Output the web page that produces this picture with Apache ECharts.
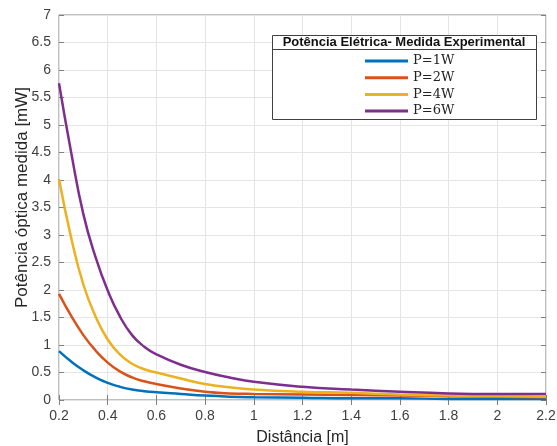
<!DOCTYPE html>
<html>
<head>
<meta charset="utf-8">
<script src="https://cdn.jsdelivr.net/npm/echarts@6/dist/echarts.min.js"></script>
<style>
  html, body { margin: 0; padding: 0; background: #fff; }
  #chart { width: 557px; height: 446px; }
</style>
</head>
<body>
<div id="chart"></div>
<script>
// distance [m]
const distancia = [0.2, 0.25, 0.3, 0.35, 0.4, 0.45, 0.5, 0.55, 0.6, 0.7, 0.8, 0.9, 1.0, 1.2, 1.4, 1.6, 1.8, 2.0, 2.2]
// measured optical power [mW]
const p1W = [0.89, 0.70, 0.54, 0.41, 0.31, 0.24, 0.19, 0.16, 0.14, 0.11, 0.08, 0.06, 0.05, 0.04, 0.03, 0.03, 0.02, 0.02, 0.02]
const p2W = [1.93, 1.53, 1.18, 0.90, 0.68, 0.52, 0.41, 0.34, 0.29, 0.21, 0.15, 0.12, 0.11, 0.10, 0.09, 0.08, 0.07, 0.06, 0.05]
const p4W = [4.02, 2.95, 2.10, 1.52, 1.10, 0.83, 0.66, 0.56, 0.50, 0.39, 0.29, 0.23, 0.19, 0.15, 0.13, 0.10, 0.08, 0.07, 0.06]
const p6W = [5.76, 4.50, 3.38, 2.60, 1.99, 1.52, 1.18, 0.97, 0.83, 0.64, 0.51, 0.41, 0.33, 0.24, 0.19, 0.15, 0.12, 0.11, 0.11]
const nomes = ['P=1W', 'P=2W', 'P=4W', 'P=6W']
const cores = ['#0072BD', '#D95319', '#EDB120', '#7E2F8E']
const legendTitle = 'Potência Elétrica- Medida Experimental'

let chart = echarts.init(document.getElementById('chart'))

function pares(ys) {
    return distancia.map((x, i) => [x, ys[i]])
}

const fonte = 'Liberation Sans, Arial, sans-serif'
const tickCor = '#404040'
const gridLinha = { show: true, lineStyle: { color: '#e5e5e5', width: 1 } }
const tickDentro = { show: true, inside: true, length: 5, lineStyle: { color: '#808080' } }

const series = [p1W, p2W, p4W, p6W].map((ys, i) => ({
    name: nomes[i],
    type: 'line',
    data: pares(ys),
    smooth: 0.5,
    showSymbol: false,
    lineStyle: { color: cores[i], width: 2.5 },
    itemStyle: { color: cores[i] },
    xAxisIndex: 0,
    yAxisIndex: 0
}))

let option = {
    animation: false,
    grid: { left: 59, right: 11, top: 15, bottom: 46, show: true, borderColor: '#808080', borderWidth: 1,
            outerBoundsMode: 'none' },
    xAxis: [{
        type: 'value', min: 0.2, max: 2.2, interval: 0.2,
        name: 'Distância [m]', nameLocation: 'middle', nameGap: 30,
        nameTextStyle: { fontFamily: fonte, fontSize: 16, color: '#262626' },
        axisLine: { show: false },
        axisTick: tickDentro,
        splitLine: gridLinha,
        axisLabel: { fontFamily: fonte, fontSize: 14, color: tickCor, margin: 9,
            formatter: v => String(+v.toFixed(1)) }
    }, {
        type: 'value', min: 0.2, max: 2.2, interval: 0.2, position: 'top',
        axisLine: { show: false }, axisTick: tickDentro, axisLabel: { show: false }, splitLine: { show: false }
    }],
    yAxis: [{
        type: 'value', min: 0, max: 7, interval: 0.5,
        name: 'Potência óptica medida [mW]', nameLocation: 'middle', nameGap: 28,
        nameMoveOverlap: false,
        nameTextStyle: { fontFamily: fonte, fontSize: 17, color: '#262626', padding: [0, 0, 0, 20] },
        axisLine: { show: false },
        axisTick: tickDentro,
        splitLine: gridLinha,
        axisLabel: { fontFamily: fonte, fontSize: 14, color: tickCor, margin: 8,
            formatter: v => String(+v.toFixed(1)) }
    }, {
        type: 'value', min: 0, max: 7, interval: 0.5, position: 'right',
        axisLine: { show: false }, axisTick: tickDentro, axisLabel: { show: false }, splitLine: { show: false }
    }],
    legend: {
        data: nomes,
        orient: 'vertical',
        left: 360, top: 49,
        itemWidth: 43, itemHeight: 3, itemGap: 2.7,
        icon: 'rect',
        z: 120,
        textStyle: { fontFamily: 'DejaVu Serif, Liberation Serif, serif', fontSize: 13, lineHeight: 14, color: '#222' }
    },
    graphic: [
        { type: 'rect', z: 100, shape: { x: 272.5, y: 35.5, width: 264, height: 84 },
          style: { fill: '#fff', stroke: '#404040', lineWidth: 1 } },
        { type: 'line', z: 101, shape: { x1: 272.5, y1: 49.5, x2: 536.5, y2: 49.5 },
          style: { stroke: '#404040', lineWidth: 1 } },
        { type: 'text', z: 101, x: 404, y: 42.5,
          style: { text: legendTitle, fill: '#111', font: 'bold 13px Liberation Sans, Arial, sans-serif',
                   textAlign: 'center', textVerticalAlign: 'middle' } }
    ],
    series: series
}

chart.setOption(option)
</script>
</body>
</html>
